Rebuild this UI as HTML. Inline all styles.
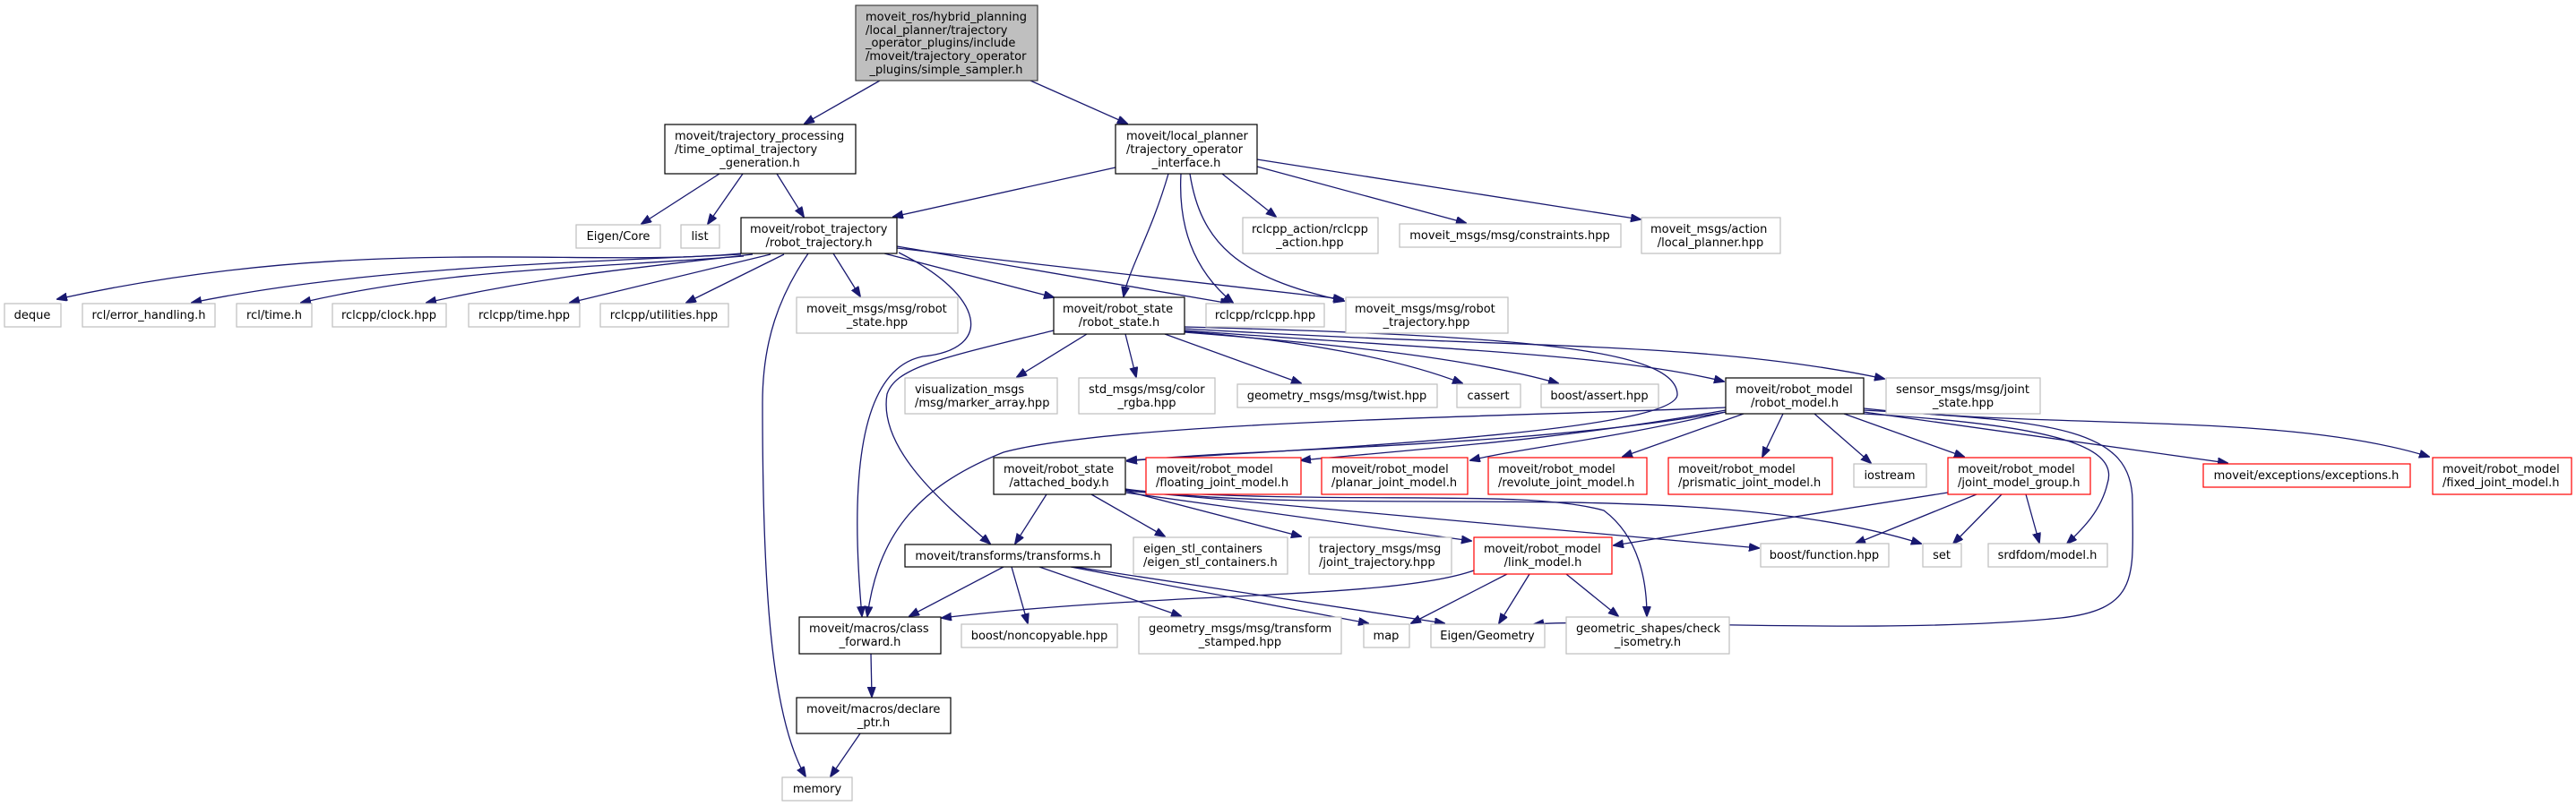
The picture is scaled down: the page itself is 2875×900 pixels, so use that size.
<!DOCTYPE html>
<html><head><meta charset="utf-8">
<style>
html,body{margin:0;padding:0;background:#fff;}
svg{display:block;}
text{font-family:"DejaVu Sans","Liberation Sans",sans-serif;font-size:13px;fill:#000;}
.e{fill:none;stroke:#191970;stroke-width:1.3;marker-end:url(#ah);}
.nb{fill:#fff;stroke:#000;stroke-width:1.2;}
.ng{fill:#fff;stroke:#bfbfbf;stroke-width:1.2;}
.nr{fill:#fff;stroke:#ff0000;stroke-width:1.2;}
.c{text-anchor:middle;}
</style></head><body>
<svg width="2875" height="900" viewBox="0 0 2875 900" xmlns="http://www.w3.org/2000/svg">
<defs>
<marker id="ah" markerUnits="userSpaceOnUse" markerWidth="12" markerHeight="10" refX="11" refY="4.5" orient="auto">
<path d="M0,0 L12,4.5 L0,9 z" fill="#191970" stroke="#191970"/>
</marker>
</defs>

<!-- EDGES -->
<path class="e" d="M982,90 L898,138"/>
<path class="e" d="M1150,90 L1258,138"/>
<path class="e" d="M803,194 L716,250"/>
<path class="e" d="M829,194 L790,250"/>
<path class="e" d="M867,194 L897,242"/>
<path class="e" d="M1245,187 L997,242"/>
<path class="e" d="M1304,194 C1285,260 1260,300 1254,331"/>
<path class="e" d="M1318,194 C1315,250 1330,300 1376,338"/>
<path class="e" d="M1328,194 C1340,270 1380,310 1500,336"/>
<path class="e" d="M1364,194 L1424,242"/>
<path class="e" d="M1403,186 L1636,249"/>
<path class="e" d="M1403,178 L1831,245"/>
<path class="e" d="M827,283 C650,300 400,260 64,334"/>
<path class="e" d="M827,284 C600,295 400,300 214,338"/>
<path class="e" d="M830,286 C650,300 500,300 336,338"/>
<path class="e" d="M840,284 C700,300 600,310 476,338"/>
<path class="e" d="M860,284 L636,338"/>
<path class="e" d="M875,284 L766,338"/>
<path class="e" d="M902,283 C870,330 851,380 851,450 C851,650 860,800 899,867"/>
<path class="e" d="M930,283 L960,331"/>
<path class="e" d="M987,283 L1176,332"/>
<path class="e" d="M1001,275 L1373,339"/>
<path class="e" d="M1001,277 L1499,334"/>
<path class="e" d="M1003,282 C1100,330 1110,390 1030,398 C970,410 945,500 962,688"/>
<path class="e" d="M1176,369 C1050,400 1000,410 990,440 C980,500 1050,560 1105,607"/>
<path class="e" d="M1213,373 L1135,421"/>
<path class="e" d="M1256,373 L1268,421"/>
<path class="e" d="M1300,373 L1452,428"/>
<path class="e" d="M1322,370 C1450,380 1560,400 1632,428"/>
<path class="e" d="M1322,371 C1500,385 1640,400 1739,428"/>
<path class="e" d="M1322,369 C1600,390 1800,395 1924,426"/>
<path class="e" d="M1322,367 C1700,390 1900,380 2103,423"/>
<path class="e" d="M1322,365 C1700,375 1870,390 1872,440 C1874,480 1500,500 1258,514"/>
<path class="e" d="M1926,460 C1700,500 1400,500 1258,515"/>
<path class="e" d="M1926,458 C1750,490 1600,500 1452,514"/>
<path class="e" d="M1926,460 C1800,490 1700,500 1641,514"/>
<path class="e" d="M1946,462 L1811,510"/>
<path class="e" d="M1990,462 L1967,510"/>
<path class="e" d="M2025,462 L2088,517"/>
<path class="e" d="M2058,462 L2192,510"/>
<path class="e" d="M2080,460 L2486,517"/>
<path class="e" d="M2080,456 C2300,480 2550,460 2711,510"/>
<path class="e" d="M2080,462 C2300,475 2365,500 2352,540 C2345,570 2325,590 2307,607"/>
<path class="e" d="M2080,458 C2300,470 2380,480 2380,560 C2380,640 2390,680 2300,690 C2100,710 1800,690 1712,697"/>
<path class="e" d="M1926,455 C1700,465 1250,470 1120,505 C1020,545 980,600 968,688"/>
<path class="e" d="M1168,552 L1133,607"/>
<path class="e" d="M1218,552 L1300,599"/>
<path class="e" d="M1256,548 L1452,599"/>
<path class="e" d="M1256,550 L1642,604"/>
<path class="e" d="M1256,548 L1963,612"/>
<path class="e" d="M1256,546 C1500,580 1900,530 2144,607"/>
<path class="e" d="M1256,547 C1500,565 1700,545 1790,570 C1830,600 1838,650 1838,688"/>
<path class="e" d="M1120,633 L1015,688"/>
<path class="e" d="M1129,633 L1147,696"/>
<path class="e" d="M1160,633 L1318,688"/>
<path class="e" d="M1195,633 L1527,696"/>
<path class="e" d="M1200,633 L1612,696"/>
<path class="e" d="M1682,641 L1575,696"/>
<path class="e" d="M1707,641 L1673,696"/>
<path class="e" d="M1748,641 L1806,688"/>
<path class="e" d="M1645,637 C1550,670 1300,660 1051,690"/>
<path class="e" d="M2174,550 L1801,609"/>
<path class="e" d="M2206,552 L2071,607"/>
<path class="e" d="M2234,552 L2180,607"/>
<path class="e" d="M2261,552 L2276,606"/>
<path class="e" d="M972,730 L973,778"/>
<path class="e" d="M960,819 L927,867"/>

<!-- NODES -->
<rect x="955" y="6" width="203" height="84" fill="#bfbfbf" stroke="#404040" stroke-width="1.2"/>
<text x="966" y="23">moveit_ros/hybrid_planning</text>
<text x="966" y="38">/local_planner/trajectory</text>
<text x="966" y="52">_operator_plugins/include</text>
<text x="966" y="67">/moveit/trajectory_operator</text>
<text class="c" x="1056" y="82">_plugins/simple_sampler.h</text>

<rect class="nb" x="742" y="139" width="213" height="55"/>
<text x="753" y="156">moveit/trajectory_processing</text>
<text x="753" y="171">/time_optimal_trajectory</text>
<text class="c" x="848" y="186">_generation.h</text>

<rect class="nb" x="1245" y="139" width="158" height="55"/>
<text x="1257" y="156">moveit/local_planner</text>
<text x="1257" y="171">/trajectory_operator</text>
<text class="c" x="1324" y="186">_interface.h</text>

<rect class="ng" x="643" y="251" width="94" height="26"/><text class="c" x="690" y="268">Eigen/Core</text>
<rect class="ng" x="760" y="251" width="43" height="26"/><text class="c" x="781" y="268">list</text>

<rect class="nb" x="827" y="243" width="174" height="40"/>
<text x="837" y="260">moveit/robot_trajectory</text>
<text class="c" x="914" y="275">/robot_trajectory.h</text>

<rect class="ng" x="1387" y="243" width="151" height="40"/>
<text x="1397" y="260">rclcpp_action/rclcpp</text>
<text class="c" x="1462" y="275">_action.hpp</text>
<rect class="ng" x="1562" y="250" width="247" height="26"/><text class="c" x="1685" y="267">moveit_msgs/msg/constraints.hpp</text>
<rect class="ng" x="1832" y="243" width="155" height="40"/>
<text x="1842" y="260">moveit_msgs/action</text>
<text class="c" x="1909" y="275">/local_planner.hpp</text>

<rect class="ng" x="5" y="339" width="63" height="26"/><text class="c" x="36" y="356">deque</text>
<rect class="ng" x="92" y="339" width="148" height="26"/><text class="c" x="166" y="356">rcl/error_handling.h</text>
<rect class="ng" x="264" y="339" width="84" height="26"/><text class="c" x="306" y="356">rcl/time.h</text>
<rect class="ng" x="371" y="339" width="127" height="26"/><text class="c" x="434" y="356">rclcpp/clock.hpp</text>
<rect class="ng" x="523" y="339" width="124" height="26"/><text class="c" x="585" y="356">rclcpp/time.hpp</text>
<rect class="ng" x="670" y="339" width="143" height="26"/><text class="c" x="741" y="356">rclcpp/utilities.hpp</text>
<rect class="ng" x="889" y="332" width="180" height="40"/>
<text x="900" y="349">moveit_msgs/msg/robot</text>
<text class="c" x="979" y="364">_state.hpp</text>
<rect class="nb" x="1176" y="332" width="146" height="41"/>
<text x="1186" y="349">moveit/robot_state</text>
<text class="c" x="1249" y="364">/robot_state.h</text>
<rect class="ng" x="1346" y="339" width="132" height="26"/><text class="c" x="1412" y="356">rclcpp/rclcpp.hpp</text>
<rect class="ng" x="1502" y="332" width="181" height="40"/>
<text x="1512" y="349">moveit_msgs/msg/robot</text>
<text class="c" x="1592" y="364">_trajectory.hpp</text>

<rect class="ng" x="1010" y="422" width="170" height="40"/>
<text x="1021" y="439">visualization_msgs</text>
<text x="1021" y="454">/msg/marker_array.hpp</text>
<rect class="ng" x="1204" y="422" width="152" height="40"/>
<text x="1215" y="439">std_msgs/msg/color</text>
<text class="c" x="1280" y="454">_rgba.hpp</text>
<rect class="ng" x="1381" y="429" width="223" height="26"/><text class="c" x="1492" y="446">geometry_msgs/msg/twist.hpp</text>
<rect class="ng" x="1626" y="429" width="71" height="26"/><text class="c" x="1661" y="446">cassert</text>
<rect class="ng" x="1720" y="429" width="131" height="26"/><text class="c" x="1785" y="446">boost/assert.hpp</text>
<rect class="nb" x="1926" y="422" width="154" height="40" stroke="#404040"/>
<text x="1937" y="439">moveit/robot_model</text>
<text class="c" x="2003" y="454">/robot_model.h</text>
<rect class="ng" x="2105" y="422" width="172" height="40"/>
<text x="2116" y="439">sensor_msgs/msg/joint</text>
<text class="c" x="2191" y="454">_state.hpp</text>

<rect class="nb" x="1109" y="511" width="147" height="41"/>
<text x="1120" y="528">moveit/robot_state</text>
<text class="c" x="1182" y="543">/attached_body.h</text>
<rect class="nr" x="1279" y="511" width="173" height="41"/>
<text x="1290" y="528">moveit/robot_model</text>
<text x="1290" y="543">/floating_joint_model.h</text>
<rect class="nr" x="1475" y="511" width="163" height="41"/>
<text x="1486" y="528">moveit/robot_model</text>
<text x="1486" y="543">/planar_joint_model.h</text>
<rect class="nr" x="1661" y="511" width="177" height="41"/>
<text x="1672" y="528">moveit/robot_model</text>
<text x="1672" y="543">/revolute_joint_model.h</text>
<rect class="nr" x="1862" y="511" width="183" height="41"/>
<text x="1873" y="528">moveit/robot_model</text>
<text x="1873" y="543">/prismatic_joint_model.h</text>
<rect class="ng" x="2069" y="518" width="81" height="26"/><text class="c" x="2109" y="535">iostream</text>
<rect class="nr" x="2174" y="511" width="159" height="41"/>
<text x="2185" y="528">moveit/robot_model</text>
<text x="2185" y="543">/joint_model_group.h</text>
<rect class="nr" x="2459" y="518" width="231" height="26"/><text class="c" x="2574" y="535">moveit/exceptions/exceptions.h</text>
<rect class="nr" x="2715" y="511" width="155" height="41"/>
<text x="2726" y="528">moveit/robot_model</text>
<text x="2726" y="543">/fixed_joint_model.h</text>

<rect class="nb" x="1010" y="608" width="230" height="25"/><text class="c" x="1125" y="625">moveit/transforms/transforms.h</text>
<rect class="ng" x="1265" y="600" width="172" height="41"/>
<text x="1276" y="617">eigen_stl_containers</text>
<text x="1276" y="632">/eigen_stl_containers.h</text>
<rect class="ng" x="1461" y="600" width="159" height="41"/>
<text x="1472" y="617">trajectory_msgs/msg</text>
<text x="1472" y="632">/joint_trajectory.hpp</text>
<rect class="nr" x="1645" y="600" width="154" height="41"/>
<text x="1656" y="617">moveit/robot_model</text>
<text class="c" x="1722" y="632">/link_model.h</text>
<rect class="ng" x="1965" y="607" width="143" height="26"/><text class="c" x="2036" y="624">boost/function.hpp</text>
<rect class="ng" x="2146" y="607" width="43" height="26"/><text class="c" x="2167" y="624">set</text>
<rect class="ng" x="2219" y="607" width="133" height="26"/><text class="c" x="2285" y="624">srdfdom/model.h</text>

<rect class="nb" x="892" y="689" width="158" height="41" stroke="#404040"/>
<text x="903" y="706">moveit/macros/class</text>
<text class="c" x="971" y="721">_forward.h</text>
<rect class="ng" x="1073" y="697" width="174" height="26"/><text class="c" x="1160" y="714">boost/noncopyable.hpp</text>
<rect class="ng" x="1271" y="689" width="226" height="41"/>
<text x="1282" y="706">geometry_msgs/msg/transform</text>
<text class="c" x="1384" y="721">_stamped.hpp</text>
<rect class="ng" x="1522" y="697" width="51" height="26"/><text class="c" x="1547" y="714">map</text>
<rect class="ng" x="1597" y="697" width="127" height="26"/><text class="c" x="1660" y="714">Eigen/Geometry</text>
<rect class="ng" x="1748" y="689" width="182" height="41"/>
<text x="1759" y="706">geometric_shapes/check</text>
<text class="c" x="1839" y="721">_isometry.h</text>

<rect class="nb" x="889" y="779" width="172" height="40"/>
<text x="900" y="796">moveit/macros/declare</text>
<text class="c" x="975" y="811">_ptr.h</text>

<rect class="ng" x="873" y="868" width="78" height="26"/><text class="c" x="912" y="885">memory</text>
</svg>
</body></html>
